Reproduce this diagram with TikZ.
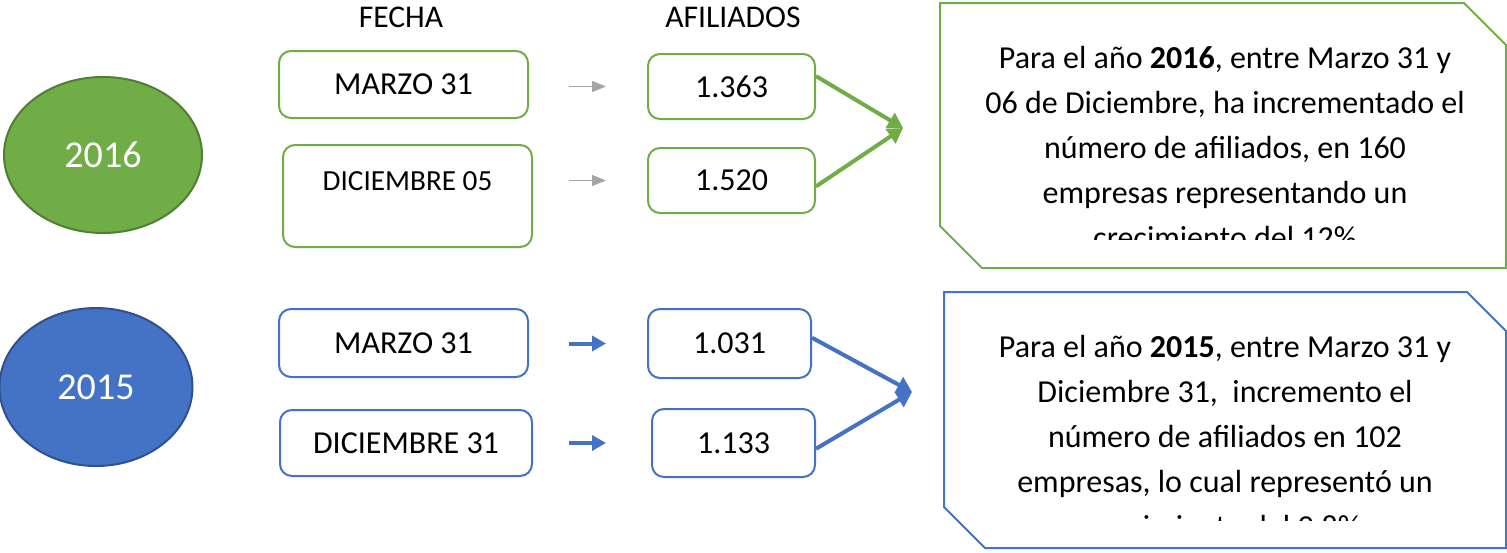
\documentclass[tikz,border=0pt]{standalone}
\usepackage{fontspec}
\setmainfont{Carlito}
\usetikzlibrary{arrows.meta,shapes.geometric}
\definecolor{ogreen}{HTML}{70AD47}
\definecolor{ogreendk}{HTML}{507E32}
\definecolor{oblue}{HTML}{4472C4}
\definecolor{obluedk}{HTML}{2F528F}
\definecolor{ogray}{HTML}{A5A5A5}
\begin{document}
\begin{tikzpicture}[x=0.5pt,y=-0.5pt,
    year/.style={ellipse,inner sep=0,line width=1pt,text=white,font=\fontsize{19}{22}\selectfont},
    datebox/.style={draw,rounded corners=6pt,line width=1pt,inner sep=0,font=\fontsize{16}{19}\selectfont},
    hdr/.style={font=\fontsize{15.8}{19}\selectfont},
    note/.style={anchor=north,align=center,inner sep=0,font=\fontsize{16}{22.5}\selectfont},
    grayarr/.style={ogray,line width=0.7pt,-{Triangle[length=7pt,width=5.5pt]}},
    bluearr/.style={oblue,line width=2pt,-{Triangle[length=7pt,width=7.5pt]}},
    mergearr/.style={line width=2pt,-{Triangle[length=7.5pt,width=8.5pt]}}]
  \useasboundingbox (0,0) rectangle (1507,552);
  \node[hdr] (fecha) at (401,17) {FECHA};
  \node[hdr] (afil) at (733,17) {AFILIADOS};
  % 2016
  \node[year,fill=ogreen,draw=ogreendk,minimum width=99pt,minimum height=78pt] (y16) at (103,155) {2016};
  \node[datebox,draw=ogreen,minimum width=124.5pt,minimum height=33.5pt] (m16) at (403.5,84.5) {MARZO 31};
  \node[datebox,draw=ogreen,minimum width=124.5pt,minimum height=51pt,align=center,
    font=\fontsize{14.6}{15}\selectfont] (d16) at (407.5,196) {DICIEMBRE 05\\ ~};
  \node[datebox,draw=ogreen,minimum width=83.5pt,minimum height=32.5pt] (a1) at (731.5,86.5) {1.363};
  \node[datebox,draw=ogreen,minimum width=83.5pt,minimum height=32.5pt] (a2) at (731.5,180.5) {1.520};
  \coordinate (g16) at (903,128);
  \draw[grayarr,shorten <=20pt,shorten >=20.5pt] (m16.east |- a1.west) -- (a1.west);
  \draw[grayarr,shorten <=18pt,shorten >=20.5pt] (d16.east |- a2.west) -- (a2.west);
  \draw[mergearr,ogreen] (a1.7) -- (g16);
  \draw[mergearr,ogreen] (a2.-4) -- (g16);
  \draw[ogreen,line width=1pt] (940,3) -- (1464,3) -- (1506,45) -- (1506,268) -- (982,268) -- (940,226) -- cycle;
  \begin{scope}
    \clip (940,3) rectangle (1506,239);
    \node[note] (t16) at (1225,46) {Para el año \textbf{2016}, entre Marzo 31 y\\06 de Diciembre, ha incrementado el\\número de afiliados, en 160\\empresas representando un\\crecimiento del 12\%};
  \end{scope}
  % 2015
  \node[year,fill=oblue,draw=obluedk,minimum width=96.5pt,minimum height=79pt] (y15) at (96,387) {2015};
  \node[datebox,draw=oblue,minimum width=124.5pt,minimum height=34pt] (m15) at (403.5,343) {MARZO 31};
  \node[datebox,draw=oblue,minimum width=126pt,minimum height=33pt] (d15) at (406,443) {DICIEMBRE 31};
  \node[datebox,draw=oblue,minimum width=81.5pt,minimum height=34.5pt] (a3) at (729.5,343.5) {1.031};
  \node[datebox,draw=oblue,minimum width=81.5pt,minimum height=34pt] (a4) at (733.5,443) {1.133};
  \coordinate (b15) at (912,392);
  \draw[bluearr,shorten <=20pt,shorten >=20.5pt] (m15.east |- a3.west) -- (a3.west);
  \draw[bluearr,shorten <=18pt,shorten >=22.5pt] (d15.east |- a4.west) -- (a4.west);
  \draw[mergearr,oblue] (a3.4) -- (b15);
  \draw[mergearr,oblue] (a4.-4) -- (b15);
  \draw[oblue,line width=1pt] (944,292) -- (1467,292) -- (1506,331) -- (1506,548) -- (985,548) -- (944,507) -- cycle;
  \begin{scope}
    \clip (944,292) rectangle (1506,520);
    \node[note] (t15) at (1225,335) {Para el año \textbf{2015}, entre Marzo 31 y\\Diciembre 31,\ \ incremento el\\número de afiliados en 102\\empresas, lo cual representó un\\crecimiento del 9.8\%};
  \end{scope}
\end{tikzpicture}
\end{document}
